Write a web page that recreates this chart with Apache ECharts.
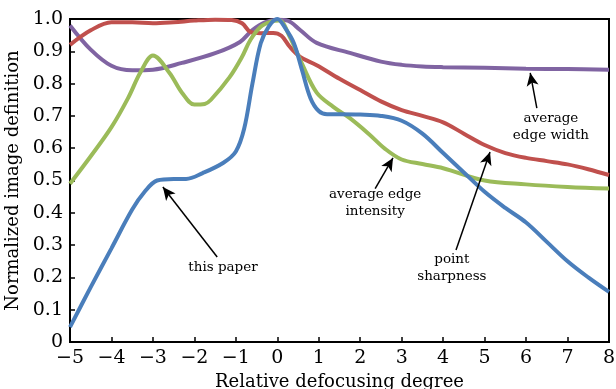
<!DOCTYPE html>
<html>
<head>
<meta charset="utf-8">
<script src="https://cdn.jsdelivr.net/npm/echarts@6/dist/echarts.min.js"></script>
<style>
  html, body { margin: 0; padding: 0; background: #fff; }
  #chart { width: 616px; height: 389px; }
</style>
</head>
<body>
<div id="chart"></div>
<script>
// values
const paperX = [-5, -4.5, -4, -3.5, -3.2, -2.9, -2.5, -2.2, -1.8, -1.3, -1, -0.8, -0.6, -0.4, -0.2, 0, 0.2, 0.4, 0.6, 0.8, 1, 1.2, 1.5, 2, 2.5, 3, 3.5, 4, 4.5, 5, 5.5, 6, 6.5, 7, 7.5, 8];
const paperY = [0.046, 0.17, 0.29, 0.41, 0.465, 0.5, 0.505, 0.505, 0.523, 0.555, 0.59, 0.66, 0.8, 0.925, 0.978, 1.0, 0.97, 0.925, 0.84, 0.755, 0.715, 0.705, 0.705, 0.704, 0.70, 0.685, 0.645, 0.585, 0.525, 0.465, 0.415, 0.37, 0.31, 0.25, 0.2, 0.155];

const sharpX = [-5, -4.5, -4, -3.5, -3, -2.5, -2, -1.5, -1.1, -0.85, -0.65, -0.4, -0.1, 0.1, 0.3, 0.55, 0.95, 1.5, 2, 2.5, 3, 3.5, 4, 4.5, 5, 5.5, 6, 6.5, 7, 7.5, 8];
const sharpY = [0.92, 0.965, 0.99, 0.99, 0.987, 0.99, 0.995, 0.998, 0.997, 0.987, 0.96, 0.956, 0.957, 0.948, 0.914, 0.883, 0.857, 0.815, 0.78, 0.745, 0.718, 0.70, 0.68, 0.645, 0.61, 0.585, 0.57, 0.56, 0.55, 0.535, 0.517];

const intensX = [-5, -4.5, -4, -3.6, -3.3, -3.0, -2.6, -2.3, -2, -1.75, -1.6, -1.15, -0.85, -0.65, -0.4, -0.15, 0.05, 0.3, 0.6, 0.95, 1.35, 1.75, 2.2, 2.6, 3, 3.5, 4, 5, 6, 7, 8];
const intensY = [0.49, 0.575, 0.665, 0.755, 0.835, 0.887, 0.833, 0.772, 0.735, 0.737, 0.75, 0.82, 0.883, 0.935, 0.976, 0.992, 0.995, 0.945, 0.86, 0.772, 0.728, 0.693, 0.645, 0.598, 0.565, 0.551, 0.538, 0.50, 0.488, 0.48, 0.475];

const widthX = [-5, -4.5, -4, -3.5, -3, -2.3, -1.5, -0.9, -0.6, -0.3, 0, 0.25, 0.55, 0.95, 1.75, 2.5, 3, 3.5, 4, 5, 6, 7, 8];
const widthY = [0.98, 0.905, 0.855, 0.841, 0.843, 0.864, 0.894, 0.929, 0.966, 0.99, 0.998, 0.995, 0.966, 0.926, 0.895, 0.868, 0.858, 0.853, 0.851, 0.849, 0.846, 0.845, 0.843];

// annotation arrows: [textX, textY, tailX, tailY, headX, headY, text]
const notes = [
  [-1.31, 0.232, -1.45, 0.263, -2.76, 0.48, 'this paper'],
  [2.36, 0.43, 2.36, 0.475, 2.79, 0.57, 'average edge\nintensity'],
  [4.21, 0.229, 4.31, 0.285, 5.13, 0.588, 'point\nsharpness'],
  [6.6, 0.666, 6.26, 0.724, 6.1, 0.833, 'average\nedge width']
];

const FONT = 'DejaVu Serif';
const pairs = (xs, ys) => xs.map((x, i) => [x, ys[i]]);

const chart = echarts.init(document.getElementById('chart'));

const lineSeries = (name, xs, ys, color) => ({
  name: name,
  type: 'line',
  data: pairs(xs, ys),
  smooth: 0.35,
  showSymbol: false,
  lineStyle: { color: color, width: 4 },
  itemStyle: { color: color },
  animation: false
});

const option = {
  animation: false,
  grid: {
    left: 70, right: 7, top: 19, bottom: 47,
    outerBoundsMode: 'none',
    containLabel: false,
    show: true, borderColor: '#000', borderWidth: 2
  },
  xAxis: {
    type: 'value',
    min: -5, max: 8, interval: 1,
    name: 'Relative defocusing degree',
    nameLocation: 'middle',
    nameGap: 28,
    nameTextStyle: { fontFamily: FONT, fontSize: 18, color: '#000' },
    axisLine: { onZero: false, lineStyle: { color: '#000', width: 2 } },
    axisTick: { inside: true, length: 5, lineStyle: { color: '#000', width: 1.5 } },
    axisLabel: {
      fontFamily: FONT, fontSize: 19, color: '#000', margin: 7,
      formatter: v => (v < 0 ? '\u2212' + Math.abs(v) : String(v))
    },
    splitLine: { show: false }
  },
  yAxis: {
    type: 'value',
    min: 0, max: 1, interval: 0.1,
    name: 'Normalized image definition',
    nameLocation: 'middle',
    nameGap: 44,
    nameTextStyle: { fontFamily: FONT, fontSize: 18, color: '#000' },
    axisLine: { show: true, onZero: false, lineStyle: { color: '#000', width: 2 } },
    axisTick: { show: true, inside: true, length: 5, lineStyle: { color: '#000', width: 1.5 } },
    axisLabel: {
      fontFamily: FONT, fontSize: 19, color: '#000', margin: 7,
      formatter: v => (v === 0 ? '0' : v.toFixed(1))
    },
    splitLine: { show: false }
  },
  series: [
    lineSeries('average edge width', widthX, widthY, '#8064a2'),
    lineSeries('point sharpness', sharpX, sharpY, '#c0504d'),
    lineSeries('average edge intensity', intensX, intensY, '#9bbb59'),
    lineSeries('this paper', paperX, paperY, '#4a7ebb'),
    {
      name: 'notes',
      type: 'line',
      data: [],
      silent: true,
      animation: false,
      markLine: {
        silent: true,
        animation: false,
        symbol: ['none', 'arrow'],
        symbolSize: [9, 13],
        label: { show: false },
        lineStyle: { color: '#000', width: 1.5, type: 'solid' },
        data: notes.map(n => [{ coord: [n[2], n[3]] }, { coord: [n[4], n[5]] }])
      },
      markPoint: {
        silent: true,
        animation: false,
        symbolSize: 0,
        data: notes.map(n => ({
          coord: [n[0], n[1]],
          label: {
            show: true,
            position: 'inside',
            formatter: n[6],
            fontFamily: FONT,
            fontSize: 13.5,
            lineHeight: 17,
            color: '#000',
            align: 'center',
            verticalAlign: 'middle'
          }
        }))
      }
    }
  ]
};

chart.setOption(option);
window.addEventListener('resize', () => chart.resize());
</script>
</body>
</html>
